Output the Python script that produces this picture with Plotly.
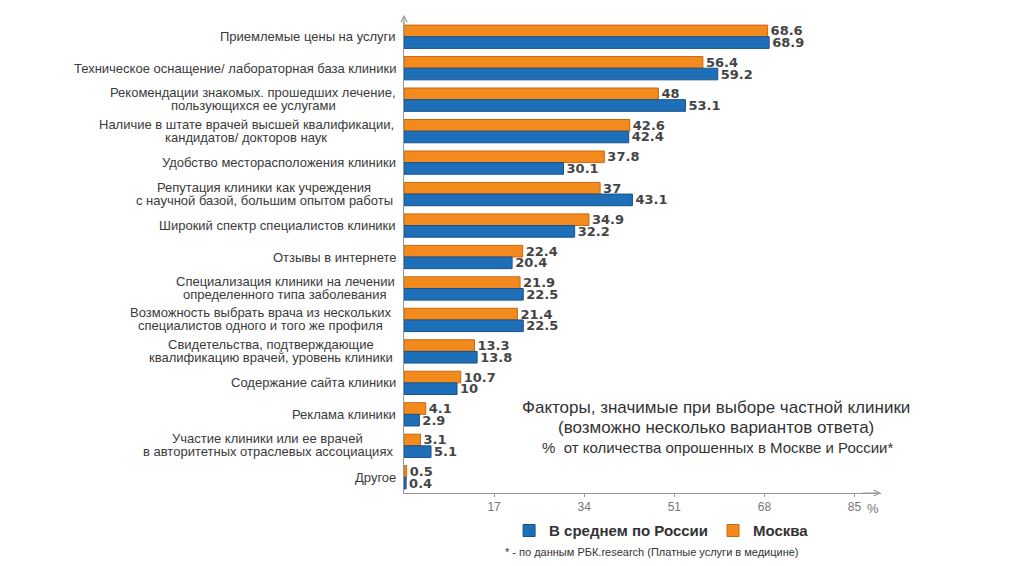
import plotly.graph_objects as go

categories = [
    "Приемлемые цены на услуги",
    "Техническое оснащение/ лабораторная база клиники",
    "Рекомендации знакомых. прошедших лечение,<br>пользующихся ее услугами",
    "Наличие в штате врачей высшей квалификации,<br>кандидатов/ докторов наук",
    "Удобство месторасположения клиники",
    "Репутация клиники как учреждения<br>с научной базой, большим опытом работы",
    "Широкий спектр специалистов клиники",
    "Отзывы в интернете",
    "Специализация клиники на лечении<br>определенного типа заболевания",
    "Возможность выбрать врача из нескольких<br>специалистов одного и того же профиля",
    "Свидетельства, подтверждающие<br>квалификацию врачей, уровень клиники",
    "Содержание сайта клиники",
    "Реклама клиники",
    "Участие клиники или ее врачей<br>в авторитетных отраслевых ассоциациях",
    "Другое",
]
moscow = [68.6, 56.4, 48, 42.6, 37.8, 37, 34.9, 22.4, 21.9, 21.4, 13.3, 10.7, 4.1, 3.1, 0.5]
russia = [68.9, 59.2, 53.1, 42.4, 30.1, 43.1, 32.2, 20.4, 22.5, 22.5, 13.8, 10, 2.9, 5.1, 0.4]
x_ticks = [17, 34, 51, 68, 85]

value_font = dict(family="DejaVu Sans", size=13, color="#454545", weight="bold")
cat_font = dict(family="Liberation Sans", size=13, color="#3a3a3a")
CHAR_W = 7.05  # rough px per character at size 13, used to centre 2-line labels

fig = go.Figure()
fig.add_trace(go.Bar(
    y=categories, x=moscow, name="Москва", orientation="h",
    marker=dict(color="#F28A1E", line=dict(color="#C76A10", width=1)),
    text=[str(v) for v in moscow], textposition="outside", cliponaxis=False,
    constraintext="none", textfont=value_font, legendrank=2,
))
fig.add_trace(go.Bar(
    y=categories, x=russia, name="В среднем по России", orientation="h",
    marker=dict(color="#1E6EB8", line=dict(color="#15528C", width=1)),
    text=[str(v) for v in russia], textposition="outside", cliponaxis=False,
    constraintext="none", textfont=value_font, legendrank=1,
))

# category labels; two-line ones get tighter spacing and centred lines
for c in categories:
    lines = c.split("<br>")
    if len(lines) == 1:
        fig.add_annotation(x=0, xref="paper", y=c, yref="y", text=c, xshift=-6,
                           showarrow=False, xanchor="right", font=cat_font)
        continue
    half = max(len(s) for s in lines) * CHAR_W / 2
    for ln, dy in zip(lines, (7, -6)):
        fig.add_annotation(x=0, xref="paper", y=c, yref="y", text=ln,
                           xshift=-6 - half, yshift=dy,
                           showarrow=False, xanchor="center", font=cat_font)

fig.add_annotation(x=0.655, xref="paper", y=0.157, yref="paper",
                   text="Факторы, значимые при выборе частной клиники",
                   showarrow=False, font=dict(family="Liberation Sans", size=17, color="#333333"))
fig.add_annotation(x=0.655, xref="paper", y=0.115, yref="paper",
                   text="(возможно несколько вариантов ответа)",
                   showarrow=False, font=dict(family="Liberation Sans", size=17, color="#333333"))
fig.add_annotation(x=0.657, xref="paper", y=0.075, yref="paper",
                   text="%  от количества опрошенных в Москве и России*",
                   showarrow=False, font=dict(family="Liberation Sans", size=15, color="#333333"))
fig.add_annotation(x=0.52, xref="paper", y=-0.142, yref="paper",
                   text="* - по данным РБК.research (Платные услуги в медицине)",
                   showarrow=False, font=dict(family="Liberation Sans", size=11, color="#333333"))
fig.add_annotation(x=1.0, xref="paper", y=-0.052, yref="paper", text="%",
                   showarrow=False, font=dict(family="Liberation Sans", size=13, color="#777777"))

# axis arrows
fig.add_annotation(x=1.0, xref="paper", y=0, yref="paper", ax=-20, ay=0,
                   text="", showarrow=True, arrowhead=5, arrowsize=1.2,
                   arrowwidth=1, arrowcolor="#999999")
fig.add_annotation(x=0, xref="paper", y=1.013, yref="paper", ax=0, ay=20,
                   text="", showarrow=True, arrowhead=5, arrowsize=1.2,
                   arrowwidth=1, arrowcolor="#999999")

fig.update_layout(
    width=1024, height=566,
    margin=dict(l=396, r=151, t=13, b=81),
    paper_bgcolor="white", plot_bgcolor="white",
    barmode="group", bargap=0.26, bargroupgap=0,
    showlegend=True,
    legend=dict(orientation="h", x=0.54, xanchor="center", y=-0.08, yanchor="middle",
                font=dict(family="Liberation Sans", size=15, color="#333333", weight="bold"),
                itemwidth=30),
    xaxis=dict(range=[0, 90], tickvals=x_ticks, showgrid=False, zeroline=False,
               showline=True, linecolor="#999999", linewidth=1,
               ticks="outside", ticklen=3, tickcolor="#999999",
               tickfont=dict(family="Liberation Sans", size=12, color="#777777")),
    yaxis=dict(autorange="reversed", showticklabels=False, showgrid=False,
               showline=True, linecolor="#999999", linewidth=1, ticks=""),
)

fig.write_html("out.html")
